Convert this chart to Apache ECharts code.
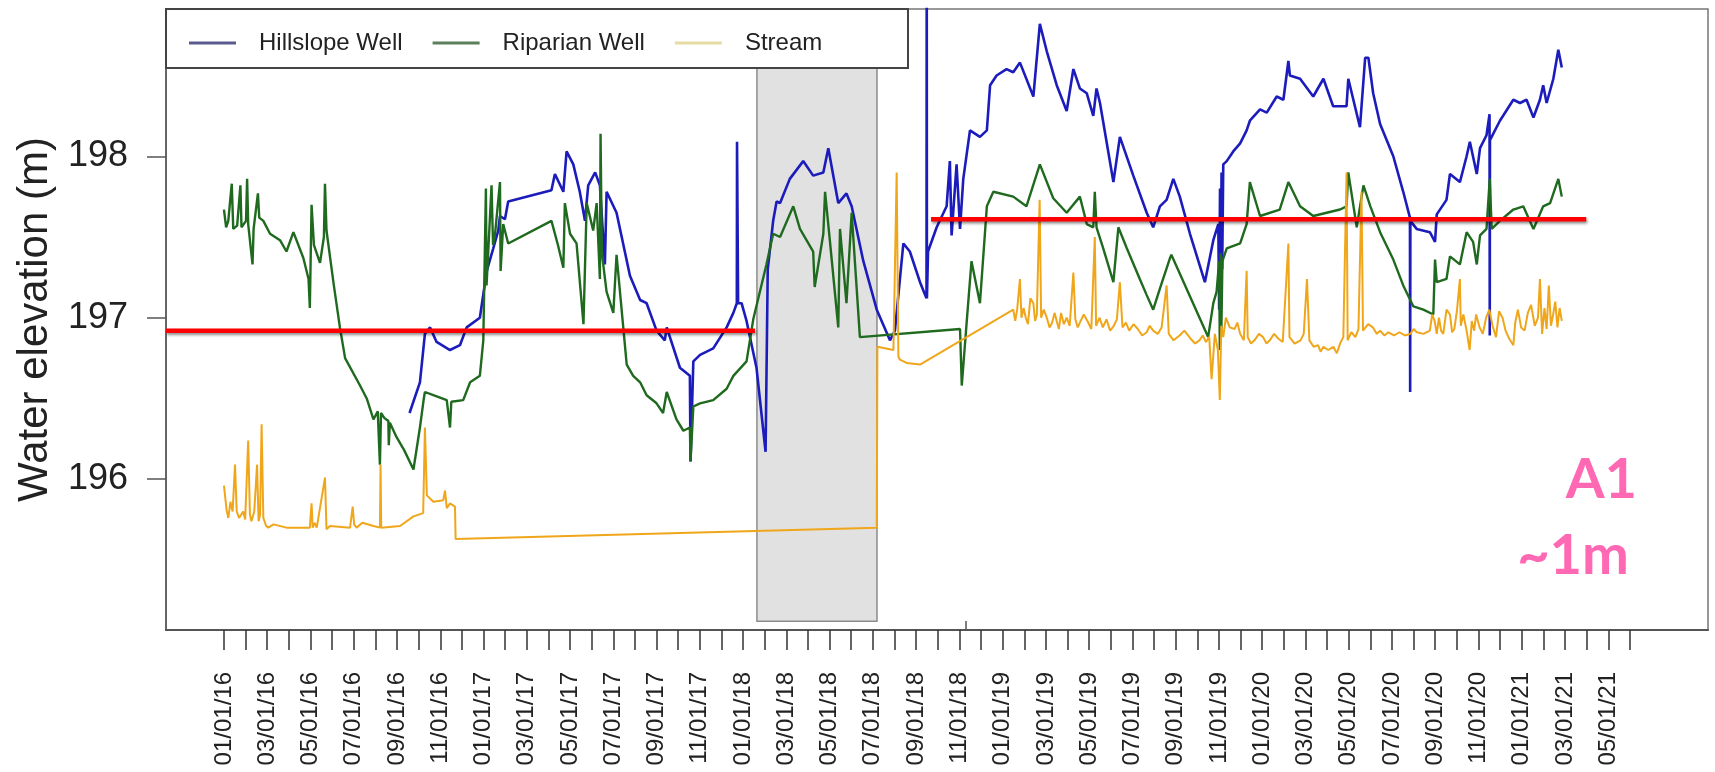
<!DOCTYPE html>
<html>
<head>
<meta charset="utf-8">
<script src="https://cdn.jsdelivr.net/npm/echarts@6/dist/echarts.min.js"></script>
<style>
  html, body { margin: 0; padding: 0; background: #ffffff; }
  #chart { width: 1715px; height: 772px; }
</style>
</head>
<body>
<div id="chart"></div>
<script>
// x: months elapsed since 01/01/2016, y: water elevation (m)
const hillslopeWell = [
  [8.58,196.41],[9.06,196.60],[9.29,196.90],[9.53,196.94],[9.83,196.85],[10.45,196.80],[10.91,196.83],[11.22,196.94],[11.83,197.00],[12.15,197.29],[12.45,197.43],[12.68,197.54],[12.76,197.63],[12.99,197.61],[13.14,197.72],
  [15.14,197.79],[15.30,197.89],[15.69,197.78],[15.84,198.03],[16.15,197.95],[16.45,197.78],[16.69,197.60],[16.84,197.82],[17.16,197.90],[17.38,197.82],[17.61,197.33],[17.69,197.78],[18.15,197.65],[18.77,197.26],[19.24,197.11],[19.54,197.09],[20.00,196.92],[20.38,196.86],[20.47,196.94],[21.08,196.69],[21.54,196.64],[21.57,196.11],[21.70,196.73],[22.01,196.77],[22.62,196.81],[23.24,196.94],[23.55,197.03],[23.71,197.09],[23.72,198.09],[23.77,197.09],[23.93,197.09],[24.16,196.98],[24.62,196.69],[25.04,196.17],[25.14,197.30],[25.39,197.60],[25.55,197.72],[25.71,197.71],[26.16,197.86],[26.78,197.97],[27.24,197.88],[27.71,197.90],[27.94,198.05],[28.40,197.71],[28.78,197.77],[29.02,197.69],[29.56,197.35],[30.18,197.05],[30.79,196.86],[31.02,196.92],[31.41,197.46],[31.71,197.41],[32.18,197.22],[32.48,197.12],[32.49,199.40],[32.50,197.12],[32.55,197.41],[32.95,197.56],[33.41,197.69],[33.56,197.97],[33.64,197.51],[33.87,197.95],[34.03,197.55],[34.18,197.86],[34.49,198.16],[34.95,198.12],[35.27,198.16],[35.42,198.44],[35.72,198.50],[36.18,198.54],[36.49,198.52],[36.80,198.58],[37.42,198.37],[37.72,198.82],[38.04,198.65],[38.50,198.44],[38.96,198.28],[39.27,198.54],[39.57,198.42],[39.89,198.39],[40.19,198.25],[40.34,198.42],[40.50,198.33],[41.12,197.84],[41.42,198.12],[42.04,197.88],[42.66,197.65],[42.96,197.56],[43.27,197.69],[43.58,197.73],[43.89,197.86],[44.19,197.75],[44.66,197.52],[45.35,197.22],[45.74,197.48],[45.97,197.58],[46.01,197.05],[46.05,197.80],[46.08,197.10],[46.12,197.90],[46.15,197.30],[46.20,197.95],[46.36,197.97],[46.66,198.03],[46.98,198.08],[47.28,198.16],[47.43,198.22],[47.90,198.29],[48.21,198.27],[48.67,198.37],[48.98,198.35],[49.21,198.59],[49.28,198.50],[49.75,198.48],[50.36,198.37],[50.83,198.48],[51.28,198.31],[51.90,198.31],[51.98,198.48],[52.52,198.18],[52.76,198.61],[52.91,198.61],[53.13,198.39],[53.45,198.20],[54.06,198.00],[54.52,197.78],[54.83,197.62],[54.84,196.54],[54.85,197.60],[55.14,197.55],[55.75,197.53],[55.99,197.47],[56.07,197.64],[56.52,197.73],[56.68,197.89],[57.14,197.84],[57.45,198.00],[57.60,198.09],[57.92,197.89],[58.07,198.05],[58.37,198.13],[58.51,198.26],[58.52,196.89],[58.53,198.10],[58.61,198.09],[58.99,198.22],[59.61,198.35],[59.92,198.33],[60.22,198.35],[60.54,198.24],[60.84,198.35],[60.99,198.44],[61.15,198.33],[61.46,198.48],[61.69,198.66],[61.85,198.55]
];

const riparianWell = [
  [0.00,197.67],[0.10,197.56],[0.20,197.60],[0.36,197.83],[0.43,197.55],[0.61,197.57],[0.76,197.82],[0.81,197.56],[1.02,197.60],[1.07,197.86],[1.12,197.58],[1.32,197.33],[1.37,197.55],[1.57,197.77],[1.63,197.62],[1.82,197.60],[2.13,197.52],[2.59,197.48],[2.89,197.41],[3.21,197.53],[3.67,197.37],[3.91,197.24],[3.97,197.06],[4.05,197.70],[4.16,197.45],[4.44,197.34],[4.62,197.50],[4.67,197.83],[4.74,197.54],[5.08,197.20],[5.36,196.94],[5.60,196.75],[6.29,196.58],[6.60,196.50],[6.91,196.37],[7.11,196.42],[7.21,196.09],[7.26,196.41],[7.41,196.38],[7.60,196.36],[7.62,196.21],[7.67,196.35],[7.98,196.26],[8.33,196.18],[8.76,196.06],[9.06,196.32],[9.24,196.50],[9.29,196.54],[9.68,196.52],[10.30,196.49],[10.45,196.32],[10.51,196.48],[11.06,196.49],[11.38,196.60],[11.83,196.64],[11.99,196.86],[12.11,197.80],[12.14,197.20],[12.30,197.63],[12.37,197.82],[12.44,197.45],[12.52,197.50],[12.76,197.84],[12.79,197.29],[12.91,197.58],[13.14,197.46],
  [15.14,197.60],[15.44,197.45],[15.69,197.31],[15.76,197.71],[16.00,197.52],[16.30,197.46],[16.62,196.96],[16.77,197.71],[17.07,197.54],[17.23,197.71],[17.38,197.24],[17.41,198.14],[17.47,197.40],[17.69,197.16],[18.00,197.03],[18.15,197.39],[18.46,196.94],[18.62,196.71],[18.92,196.64],[19.24,196.60],[19.54,196.52],[20.00,196.47],[20.30,196.41],[20.47,196.54],[20.92,196.37],[21.24,196.30],[21.54,196.32],[21.57,196.11],[21.70,196.45],[22.01,196.47],[22.62,196.49],[23.24,196.56],[23.55,196.64],[24.16,196.73],[24.47,196.99],[25.08,197.33],[25.39,197.52],[25.71,197.50],[26.32,197.69],[26.63,197.55],[27.24,197.41],[27.31,197.19],[27.71,197.52],[27.79,197.78],[28.01,197.48],[28.40,196.94],[28.48,197.55],[28.78,197.09],[29.02,197.65],[29.40,196.88],
  [34.03,196.93],[34.11,196.58],[34.33,196.96],[34.56,197.35],[34.95,197.09],[35.27,197.69],[35.57,197.78],[36.49,197.75],[37.10,197.69],[37.72,197.95],[38.34,197.74],[38.96,197.65],[39.57,197.75],[39.89,197.58],[40.19,197.56],[40.26,197.78],[40.34,197.56],[40.65,197.43],[41.12,197.22],[41.35,197.56],[41.74,197.43],[42.34,197.24],[42.66,197.14],[42.96,197.05],[43.27,197.18],[43.74,197.37],[43.80,197.39],
  [45.50,196.88],[45.74,197.09],[45.89,197.16],[46.01,197.35],[46.04,196.80],[46.08,197.40],[46.11,196.90],[46.16,197.35],[46.36,197.43],[46.98,197.46],[47.28,197.58],[47.43,197.84],[47.90,197.63],[48.81,197.67],[49.21,197.84],[49.75,197.69],[50.36,197.63],[50.98,197.65],[51.60,197.67],[51.90,197.69],[51.98,197.90],[52.37,197.56],[52.68,197.82],[53.00,197.69],[53.45,197.53],[54.06,197.36],[54.52,197.20],[54.99,197.07],[55.45,197.05],[55.91,197.02],[55.99,197.36],[56.07,197.22],[56.52,197.24],[56.68,197.38],[57.14,197.33],[57.45,197.53],[57.75,197.47],[57.92,197.33],[58.07,197.51],[58.37,197.55],[58.52,197.86],[58.61,197.55],[58.99,197.60],[59.61,197.67],[60.07,197.69],[60.54,197.55],[60.99,197.69],[61.31,197.71],[61.69,197.86],[61.85,197.75]
];

const stream = [
  [0.00,195.96],[0.12,195.81],[0.20,195.76],[0.30,195.86],[0.40,195.80],[0.51,196.09],[0.59,195.80],[0.70,195.76],[0.89,195.80],[0.98,195.75],[1.12,196.24],[1.20,195.78],[1.27,195.74],[1.40,195.80],[1.53,196.09],[1.60,195.74],[1.67,195.78],[1.74,196.34],[1.82,195.76],[1.95,195.71],[2.05,195.70],[2.29,195.72],[2.89,195.70],[3.97,195.70],[4.05,195.85],[4.10,195.70],[4.20,195.73],[4.29,195.70],[4.67,196.01],[4.74,195.69],[4.90,195.71],[5.83,195.70],[5.95,195.83],[6.02,195.72],[6.13,195.70],[6.40,195.73],[6.91,195.71],[7.21,195.70],[7.24,196.09],[7.27,195.70],[8.14,195.71],[8.76,195.77],[9.21,195.79],[9.29,196.32],[9.38,195.90],[9.68,195.86],[10.14,195.87],[10.22,195.93],[10.30,195.82],[10.45,195.85],[10.68,195.83],[10.71,195.63],
  [30.18,195.70],[30.21,196.82],[30.95,196.80],[31.10,197.90],[31.18,196.76],[31.25,196.74],[31.56,196.72],[32.18,196.71],
  [36.49,197.05],[36.58,196.98],[36.67,197.05],[36.80,197.24],[36.87,197.00],[36.97,197.06],[37.07,197.00],[37.17,196.96],[37.28,197.12],[37.42,197.09],[37.50,196.98],[37.58,197.02],[37.71,197.73],[37.78,197.00],[37.90,197.05],[38.04,197.00],[38.17,196.94],[38.29,196.97],[38.40,197.03],[38.50,196.98],[38.60,196.93],[38.70,197.03],[38.83,196.96],[38.96,197.00],[39.10,196.95],[39.27,197.28],[39.36,196.99],[39.47,196.94],[39.57,196.97],[39.75,197.02],[39.92,196.98],[40.10,196.93],[40.26,197.50],[40.32,196.95],[40.48,197.00],[40.63,196.94],[40.80,196.99],[40.97,196.92],[41.14,196.95],[41.28,196.99],[41.42,197.22],[41.54,196.94],[41.70,196.97],[41.85,196.92],[42.05,196.96],[42.25,196.93],[42.45,196.89],[42.66,196.91],[42.80,196.95],[42.96,196.92],[43.17,196.90],[43.35,196.94],[43.58,197.20],[43.68,196.90],[43.90,196.86],[44.18,196.89],[44.40,196.92],[44.69,196.87],[44.90,196.84],[45.10,196.86],[45.25,196.89],[45.40,196.85],[45.55,196.88],[45.66,196.62],[45.81,196.90],[45.95,196.80],[46.04,196.49],[46.11,196.95],[46.20,196.88],[46.32,197.00],[46.50,196.94],[46.72,196.93],[46.85,196.97],[46.98,196.90],[47.15,196.86],[47.28,197.29],[47.33,196.88],[47.48,196.84],[47.64,196.86],[47.85,196.90],[48.04,196.88],[48.20,196.84],[48.35,196.86],[48.55,196.90],[48.75,196.87],[48.95,196.85],[49.21,197.46],[49.26,196.88],[49.50,196.84],[49.77,196.86],[49.92,196.90],[50.07,197.24],[50.18,196.86],[50.38,196.82],[50.58,196.83],[50.70,196.79],[50.83,196.82],[51.05,196.80],[51.29,196.82],[51.45,196.78],[51.60,196.84],[51.75,196.88],[51.90,197.90],[51.95,196.86],[52.12,196.91],[52.31,196.88],[52.45,196.93],[52.59,197.78],[52.66,196.92],[52.90,196.96],[53.12,196.94],[53.30,196.90],[53.45,196.92],[53.65,196.89],[53.83,196.91],[54.10,196.89],[54.34,196.91],[54.60,196.89],[54.85,196.90],[55.00,196.93],[55.15,196.91],[55.45,196.90],[55.75,196.92],[55.86,197.02],[55.97,196.98],[56.07,196.90],[56.17,197.00],[56.27,196.92],[56.37,196.90],[56.52,197.05],[56.68,197.02],[56.78,196.91],[56.88,196.93],[57.00,197.04],[57.14,197.24],[57.18,196.95],[57.30,197.02],[57.45,196.92],[57.59,196.80],[57.69,196.98],[57.80,196.92],[57.89,197.02],[58.05,196.94],[58.20,196.90],[58.35,197.00],[58.50,197.05],[58.65,196.95],[58.81,196.88],[58.95,197.04],[59.11,197.00],[59.25,196.92],[59.42,196.87],[59.61,196.83],[59.70,196.97],[59.82,197.05],[59.97,196.94],[60.13,196.92],[60.28,197.03],[60.43,197.08],[60.60,196.95],[60.75,197.00],[60.84,197.24],[60.94,196.90],[61.05,197.06],[61.15,196.93],[61.25,197.20],[61.35,196.95],[61.45,197.02],[61.55,197.10],[61.65,196.94],[61.75,197.06],[61.85,196.98]
];

// date labels every second month, starting at month 0
const dateLabels = [
  '01/01/16','03/01/16','05/01/16','07/01/16','09/01/16','11/01/16',
  '01/01/17','03/01/17','05/01/17','07/01/17','09/01/17','11/01/17',
  '01/01/18','03/01/18','05/01/18','07/01/18','09/01/18','11/01/18',
  '01/01/19','03/01/19','05/01/19','07/01/19','09/01/19','11/01/19',
  '01/01/20','03/01/20','05/01/20','07/01/20','09/01/20','11/01/20',
  '01/01/21','03/01/21','05/01/21'
];
const elevationTicks = [196, 197, 198];

// reference levels (m) and the months they span
const earlyLevel = [[-2.68, 196.92], [24.55, 196.92]];
const lateLevel = [[32.69, 197.61], [62.98, 197.61]];
// shaded period: [startMonth, endMonth, lowElevation, highElevation]
const shadedPeriod = [24.64, 30.19, 195.12, 198.55];

const labelMonths = dateLabels.map((_, i) => i * 2);
const monthTicks = Array.from({ length: 66 }, (_, i) => i);

const FONT = "'Liberation Sans', Arial, sans-serif";
const COLORS = { hill: '#1c1cbc', rip: '#1f6a1f', stream: '#f0a61a' };

const chart = echarts.init(document.getElementById('chart'), null, { renderer: 'canvas' });

chart.setOption({
  animation: false,
  backgroundColor: '#ffffff',
  grid: {
    left: 166, right: 7, top: 9, bottom: 142,
    show: true, borderColor: '#777', borderWidth: 1.5, backgroundColor: 'transparent'
  },
  legend: {
    left: 189, top: 31, padding: 0,
    icon: 'rect',
    itemWidth: 47, itemHeight: 3, itemGap: 30,
    z: 6,
    textStyle: { fontFamily: FONT, fontSize: 24, color: '#222', padding: [0, 0, 0, 18] },
    data: [
      { name: 'Hillslope Well', itemStyle: { color: '#5a5a8e' } },
      { name: 'Riparian Well', itemStyle: { color: '#5b7e5b' } },
      { name: 'Stream', itemStyle: { color: '#e6dba4' } }
    ]
  },
  xAxis: {
    type: 'value',
    min: -2.68, max: 68.61,
    axisLine: { show: true, onZero: false, lineStyle: { color: '#555', width: 2 } },
    axisTick: { show: true, customValues: monthTicks, length: 20, lineStyle: { color: '#333', width: 1.5 } },
    axisLabel: {
      customValues: labelMonths,
      rotate: 90, margin: 42,
      fontFamily: FONT, fontSize: 24, color: '#222',
      formatter: (v) => dateLabels[Math.round(v / 2)]
    },
    splitLine: { show: false }
  },
  yAxis: {
    type: 'value',
    min: 195.066, max: 198.912,
    name: 'Water elevation (m)',
    nameLocation: 'middle', nameRotate: 90, nameGap: 110,
    nameTextStyle: { fontFamily: FONT, fontSize: 42, color: '#222' },
    axisLine: { show: true, onZero: false, lineStyle: { color: '#666', width: 2 } },
    axisTick: { show: true, customValues: elevationTicks, length: 19, lineStyle: { color: '#555', width: 1.5 } },
    axisLabel: {
      customValues: elevationTicks, margin: 38,
      fontFamily: FONT, fontSize: 36, color: '#222',
      formatter: (v) => String(v)
    },
    splitLine: { show: false }
  },
  graphic: [
    {
      type: 'rect', z: 5,
      shape: { x: 166, y: 9, width: 742, height: 59 },
      style: { fill: '#ffffff', stroke: '#444', lineWidth: 2 }
    },
    {
      type: 'line', z: 5,
      shape: { x1: 966, y1: 621, x2: 966, y2: 630 },
      style: { stroke: '#555', lineWidth: 1.5 }
    },
    {
      type: 'text', z: 20,
      style: {
        text: 'A1', x: 1637, y: 480, align: 'right', verticalAlign: 'middle',
        fontFamily: "Lato, 'Open Sans', sans-serif", fontWeight: 'bold', fontSize: 56, fill: '#ff69b4'
      }
    },
    {
      type: 'text', z: 20,
      style: {
        text: '~1m', x: 1629, y: 556, align: 'right', verticalAlign: 'middle',
        fontFamily: "Lato, 'Open Sans', sans-serif", fontWeight: 'bold', fontSize: 56, fill: '#ff69b4'
      }
    }
  ],
  series: [
    {
      name: 'shaded', type: 'line', data: [], silent: true, z: 1,
      markArea: {
        silent: true,
        itemStyle: { color: '#e1e1e1', borderColor: '#8c8c8c', borderWidth: 1.5 },
        data: [[
          { xAxis: shadedPeriod[0], yAxis: shadedPeriod[2] },
          { xAxis: shadedPeriod[1], yAxis: shadedPeriod[3] }
        ]]
      }
    },
    {
      name: 'Hillslope Well', type: 'line', data: hillslopeWell,
      symbol: 'none', showSymbol: false, z: 2,
      color: COLORS.hill,
      lineStyle: { color: COLORS.hill, width: 2.6 }
    },
    {
      name: 'Riparian Well', type: 'line', data: riparianWell,
      symbol: 'none', showSymbol: false, z: 2,
      color: COLORS.rip,
      lineStyle: { color: COLORS.rip, width: 2.4 }
    },
    {
      name: 'Stream', type: 'line', data: stream,
      symbol: 'none', showSymbol: false, z: 2,
      color: COLORS.stream,
      lineStyle: { color: COLORS.stream, width: 2 }
    },
    {
      name: 'earlyLevel', type: 'line', data: earlyLevel,
      symbol: 'none', silent: true, z: 8,
      lineStyle: { color: '#ff0000', width: 4.5, shadowColor: 'rgba(0,0,0,0.45)', shadowBlur: 3, shadowOffsetY: 2, shadowOffsetX: 1 }
    },
    {
      name: 'lateLevel', type: 'line', data: lateLevel,
      symbol: 'none', silent: true, z: 8,
      lineStyle: { color: '#ff0000', width: 4.5, shadowColor: 'rgba(0,0,0,0.45)', shadowBlur: 3, shadowOffsetY: 2, shadowOffsetX: 1 }
    }
  ]
});
</script>
</body>
</html>
